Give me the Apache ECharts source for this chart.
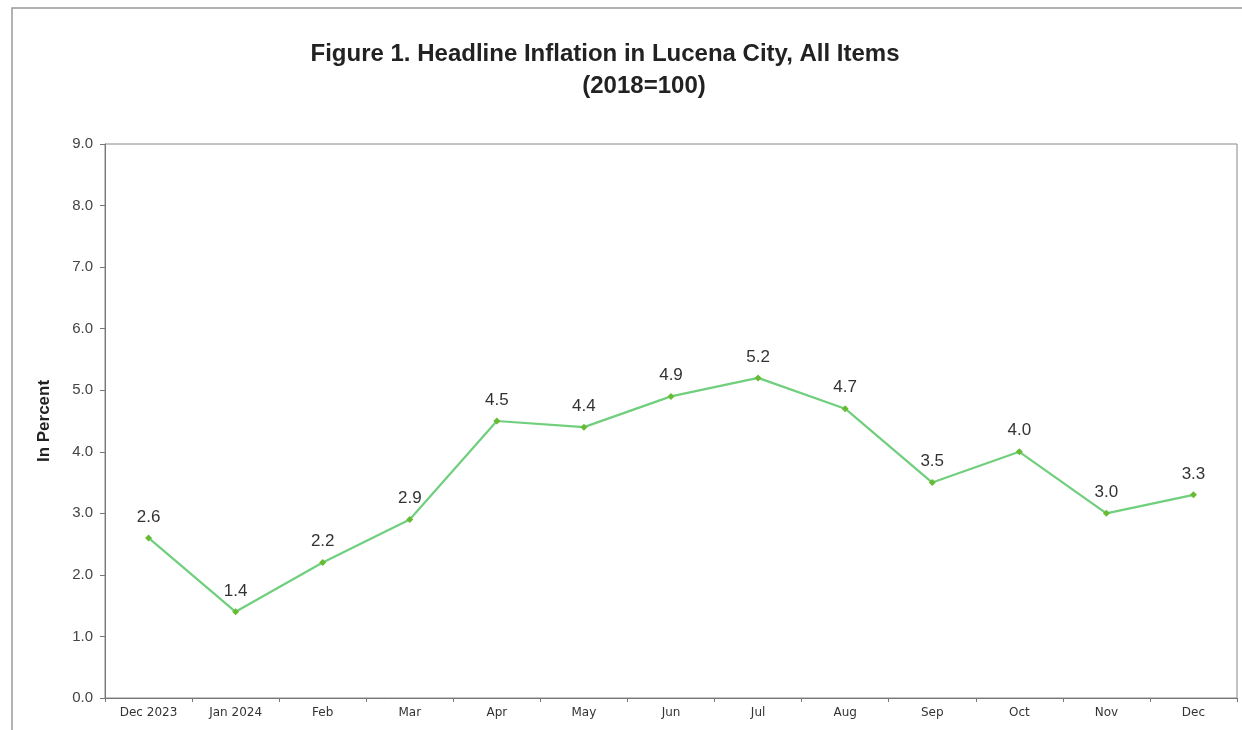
<!DOCTYPE html>
<html><head><meta charset="utf-8">
<script src="https://cdn.jsdelivr.net/npm/echarts@6/dist/echarts.min.js"></script>
<style>html,body{margin:0;padding:0;background:#fff}#c{width:1242px;height:730px}</style>
</head><body><div id="c"></div>
<script>
const categories = ['Dec 2023','Jan 2024','Feb','Mar','Apr','May','Jun','Jul','Aug','Sep','Oct','Nov','Dec'];
const inflation = [2.6,1.4,2.2,2.9,4.5,4.4,4.9,5.2,4.7,3.5,4.0,3.0,3.3];
const yTicks = [0,1,2,3,4,5,6,7,8,9];

const chart = echarts.init(document.getElementById('c'));
chart.setOption({
  backgroundColor:'#fff',
  animation:false,
  title:[
    {text:'Figure 1. Headline Inflation in Lucena City, All Items', left:600, top:37, textAlign:'center',
     textStyle:{fontFamily:'"Liberation Sans",Arial,sans-serif',fontWeight:'bold',fontSize:24,color:'#222'}},
    {text:'(2018=100)', left:639, top:69, textAlign:'center',
     textStyle:{fontFamily:'"Liberation Sans",Arial,sans-serif',fontWeight:'bold',fontSize:24,color:'#222'}}
  ],
  graphic:[
    {type:'polyline', shape:{points:[[12,740],[12,8],[1250,8]]}, style:{stroke:'#999',lineWidth:1.5,fill:null}}
  ],
  grid:{left:105,right:5,top:144,bottom:32,show:true,borderColor:'#888',borderWidth:1},
  xAxis:{type:'category',data:categories,boundaryGap:true,
    axisLine:{lineStyle:{color:'#777'}},
    axisTick:{show:true,alignWithLabel:false,length:4,lineStyle:{color:'#777'}},
    axisLabel:{color:'#333',fontSize:12,fontFamily:'"DejaVu Sans",sans-serif',margin:9}},
  yAxis:{type:'value',min:0,max:9,interval:1,
    name:'In Percent',nameLocation:'middle',nameGap:52,
    nameTextStyle:{fontFamily:'"Liberation Sans",Arial,sans-serif',fontWeight:'bold',fontSize:17,color:'#222'},
    axisLine:{show:true,lineStyle:{color:'#777'}},
    axisTick:{show:true,length:5,lineStyle:{color:'#777'}},
    splitLine:{show:false},
    axisLabel:{color:'#444',fontSize:15,fontFamily:'"Liberation Sans",Arial,sans-serif',margin:12,formatter:v=>v.toFixed(1)}},
  series:[{type:'line',data:inflation,symbol:'diamond',symbolSize:7,
    lineStyle:{color:'#70cf7c',width:2.2},
    itemStyle:{color:'#66bb33'},
    label:{show:true,position:'top',distance:9,color:'#333',fontSize:17,fontFamily:'"Liberation Sans",Arial,sans-serif',formatter:p=>p.value.toFixed(1)}}]
});
</script></body></html>
